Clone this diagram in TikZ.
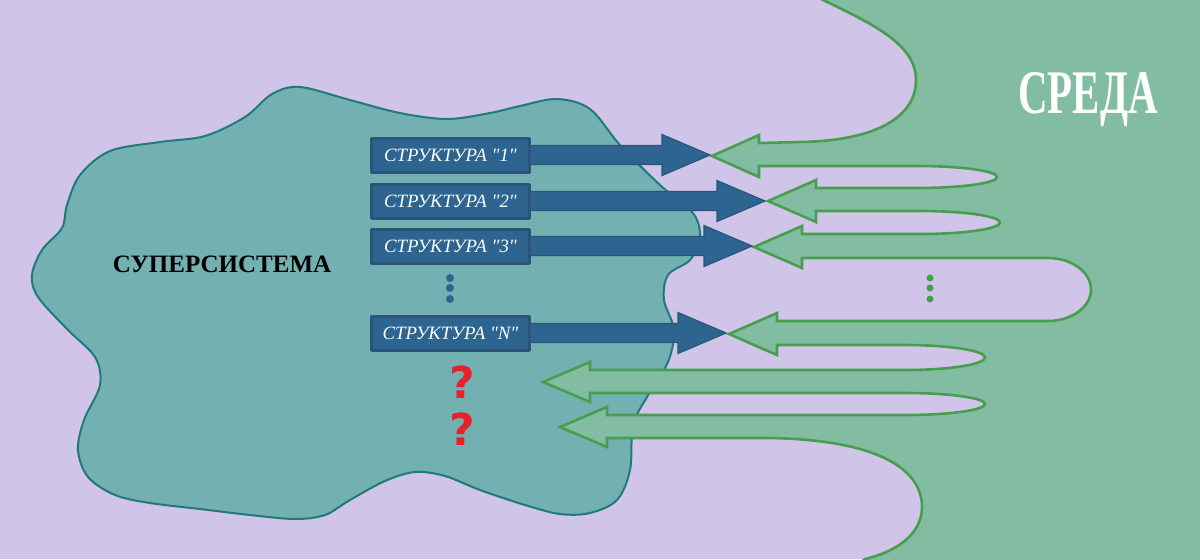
\documentclass[tikz,border=0pt]{standalone}
\usepackage{fontspec}
\setmainfont{Liberation Serif}[Ligatures=TeXOff]
\newfontfamily\qfont{DejaVu Sans}
\usetikzlibrary{calc}
\definecolor{lavbg}{HTML}{D0C5E8}
\definecolor{blobfill}{HTML}{73B0B2}
\definecolor{blobline}{HTML}{217A7A}
\definecolor{envfill}{HTML}{82BDA3}
\definecolor{envline}{HTML}{479E4E}
\definecolor{boxfill}{HTML}{2E6590}
\definecolor{boxline}{HTML}{2A5578}
\definecolor{qred}{HTML}{E8202A}
\begin{document}
\begin{tikzpicture}[x=0.5pt, y=-0.5pt, line cap=round, line join=round,
    structbox/.style={draw=boxline, line width=1.5pt, fill=boxfill, minimum width=79pt,
      minimum height=17pt, inner sep=0pt, text=white, font=\fontsize{9.4}{10}\selectfont\itshape},
    blockarrow/.style={draw=boxline, line width=0.6pt, fill=boxfill, line join=miter},
    envshape/.style={draw=envline, line width=1.3pt, fill=envfill, line join=miter},
    qmark/.style={text=qred, font=\qfont\fontsize{22}{24}\selectfont\bfseries, anchor=base}]
  \useasboundingbox (0,0) rectangle (1200,559);
  \clip (0,0) rectangle (1200,559);
  \fill[lavbg] (0,0) rectangle (1200,559);
  % supersystem
  \draw[blobline, fill=blobfill, line width=1pt] plot[smooth cycle, tension=0.55] coordinates {
    (300,87) (350,100) (400,113) (447,119) (490,113) (520,106) (557,99) (590,109)
    (620,145) (660,185) (693,213) (700,238) (690,260) (668,275) (664,300) (674,330)
    (668,362) (647,397) (633,425) (630,470) (617,500) (590,513) (560,514) (525,505)
    (480,490) (445,476) (415,472) (385,481) (350,500) (325,515) (295,519) (250,515)
    (200,509) (150,503) (115,495) (88,477) (78,450) (84,420) (100,385) (95,357)
    (68,330) (38,297) (32,275) (42,250) (62,228) (67,205) (80,175) (110,151)
    (160,142) (205,136) (245,117) (272,94)};
  \node[font=\fontsize{12.5}{14}\selectfont\bfseries] (super) at (222,264) {СУПЕРСИСТЕМА};
  % environment with its arrows
  \draw[envshape] (790,-18) -- (823,0) .. controls (875,25) and (916,45) .. (916,80)
    .. controls (916,120) and (870,141) .. (800,142) -- (759,143)
    -- (759,135) -- (712,156) -- (759,177) -- (759,166)
    -- (917,166) arc[start angle=-90, end angle=90, x radius=80, y radius=11]
    -- (816,188) -- (816,180) -- (768,201) -- (816,222) -- (816,211)
    -- (920,211) arc[start angle=-90, end angle=90, x radius=80, y radius=11.5]
    -- (802,234) -- (802,226) -- (754,247) -- (802,268) -- (802,258)
    -- (1048,258) arc[start angle=-90, end angle=90, x radius=43, y radius=31.5]
    -- (777,321) -- (777,313) -- (729,334) -- (777,355) -- (777,345)
    -- (905,345) arc[start angle=-90, end angle=90, x radius=80, y radius=12.5]
    -- (590,370) -- (590,362) -- (543,382) -- (590,402) -- (590,393)
    -- (905,393) arc[start angle=-90, end angle=90, x radius=80, y radius=11]
    -- (607,415) -- (607,407) -- (560,427) -- (607,447) -- (607,438)
    -- (770,438) .. controls (880,440) and (922,470) .. (922,507)
    .. controls (922,535) and (895,552) .. (865,559) -- (845,575)
    -- (1220,575) -- (1220,-18) -- cycle;
  \foreach \y in {278,288,299} \fill[envline] (930,\y) circle[radius=3.5];
  \node[text=white, font=\fontsize{31}{34}\selectfont\bfseries, anchor=base] (sreda) at (1088,113) {\scalebox{0.66}[1]{СРЕДА}};
  % structures
  \foreach \l/\y in {1/155, 2/201, 3/246, N/333}
    \node[structbox] (s\l) at (450.5,\y) {СТРУКТУРА "\l"};
  \foreach \l/\y/\tx in {1/155/710, 2/201/765, 3/246/752, N/333/726} {
    \coordinate (t\l) at (\tx,\y);
    \draw[blockarrow] ($(s\l.east)+(-1,-9.5)$) -- ($(t\l)+(-48,-9.5)$) -- ($(t\l)+(-48,-20.5)$)
      -- (t\l) -- ($(t\l)+(-48,20.5)$) -- ($(t\l)+(-48,9.5)$) -- ($(s\l.east)+(-1,9.5)$) -- cycle;
  }
  \foreach \y in {278,288,299} \fill[boxfill] (450,\y) circle[radius=4];
  \node[qmark] (q1) at (462,398) {?};
  \node[qmark] (q2) at (462,445) {?};
\end{tikzpicture}
\end{document}
